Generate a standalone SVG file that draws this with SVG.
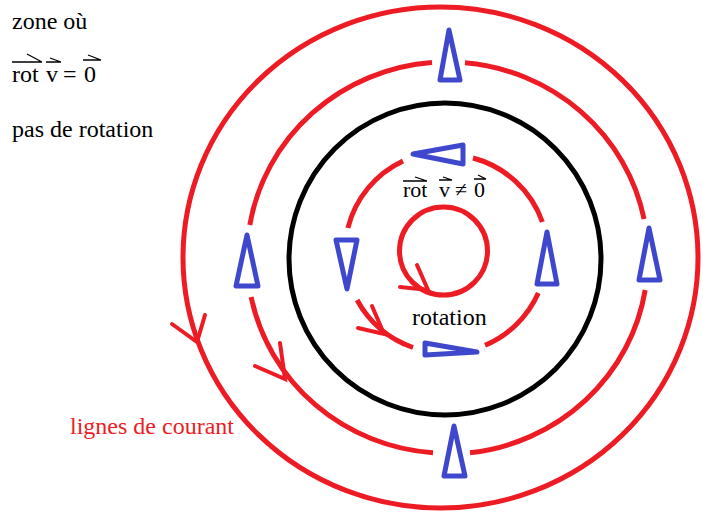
<svg xmlns="http://www.w3.org/2000/svg" width="703" height="513" viewBox="0 0 703 513">
<style>
.red{fill:none;stroke:#ED1C24;stroke-width:5;stroke-linecap:butt}
.arr{fill:none;stroke:#ED1C24;stroke-width:4;stroke-linecap:round}
.blk{fill:none;stroke:#000;stroke-width:5}
.tri{fill:#fff;stroke:#3F48CC;stroke-width:5;stroke-linejoin:round}
.t{font-family:"Liberation Serif","Times New Roman",serif;font-size:24px;fill:#000}
.vec{fill:none;stroke:#000;stroke-width:1.3}
</style>
<rect width="703" height="513" fill="#fff"/>
<g id="connectors">
  <ellipse class="red" cx="440.5" cy="257.5" rx="257.5" ry="250.5"/>
  <path class="red" d="M465 62.8 A200.5 195.5 0 0 1 644.1 219 M645.2 290 A200.5 195.5 0 0 1 470 452.8 M433 452.8 A200.5 195.5 0 0 1 251.1 297 M249.8 225 A200.5 195.5 0 0 1 432 62.6"/>
  <circle class="blk" cx="445" cy="259" r="156"/>
  <path class="red" d="M473 158 A101 101 0 0 1 542.4 222 M538.3 293 A101 101 0 0 1 485 345.2 M413 347.5 A101 101 0 0 1 357.1 300 M347.9 228 A101 101 0 0 1 403 161"/>
  <circle class="red" cx="443.5" cy="251" r="44"/>
  <path class="arr" d="M172 324 L197 342 L205 315"/>
  <path class="arr" d="M255 366 L285 379 L280 343"/>
  <path class="arr" d="M358 328 L384 334 L372 306"/>
  <path class="arr" d="M400 287 L428 290 L417 265"/>
</g>
<g id="tri-outer-top"><polygon class="tri" points="449,30 440,80 460,80"/></g>
<g id="tri-outer-bottom"><polygon class="tri" points="454,426 444,476 465,476"/></g>
<g id="tri-outer-left"><polygon class="tri" points="247,235 236,286 258,286"/></g>
<g id="tri-outer-right"><polygon class="tri" points="649,228 639,280 660,280"/></g>
<g id="tri-inner-top"><polygon class="tri" points="413,154 463,145 463,164"/></g>
<g id="tri-inner-bottom"><polygon class="tri" points="425,343 425,355 477,352"/></g>
<g id="tri-inner-left"><polygon class="tri" points="336,240 357,240 347,289"/></g>
<g id="tri-inner-right"><polygon class="tri" points="547,232 537,284 557,284"/></g>
<g id="label-zone">
  <text class="t" x="12" y="29">zone où</text>
  <text class="t" y="82"><tspan x="12">rot</tspan><tspan x="46">v</tspan><tspan x="63">=</tspan><tspan x="84">0</tspan></text>
  <path class="vec" d="M12 62 H42 M27 54 L42 62 M46 62 H61 M50 58 L61 62 M83 60 H101 M88 55 L101 60"/>
  <text class="t" x="12" y="137">pas de rotation</text>
</g>
<g id="label-center">
  <text class="t" y="197" style="font-size:22px"><tspan x="403">rot</tspan><tspan x="439">v</tspan><tspan x="455">≠</tspan><tspan x="474">0</tspan></text>
  <path class="vec" d="M403 181 H427 M415 177 L427 181 M439 180 H452 M443 177 L452 180 M474 179 H486 M478 175 L486 179"/>
  <text class="t" x="412" y="325">rotation</text>
</g>
<g id="label-lignes">
  <text class="t" x="70" y="434" style="fill:#ED1C24">lignes de courant</text>
</g>
</svg>
